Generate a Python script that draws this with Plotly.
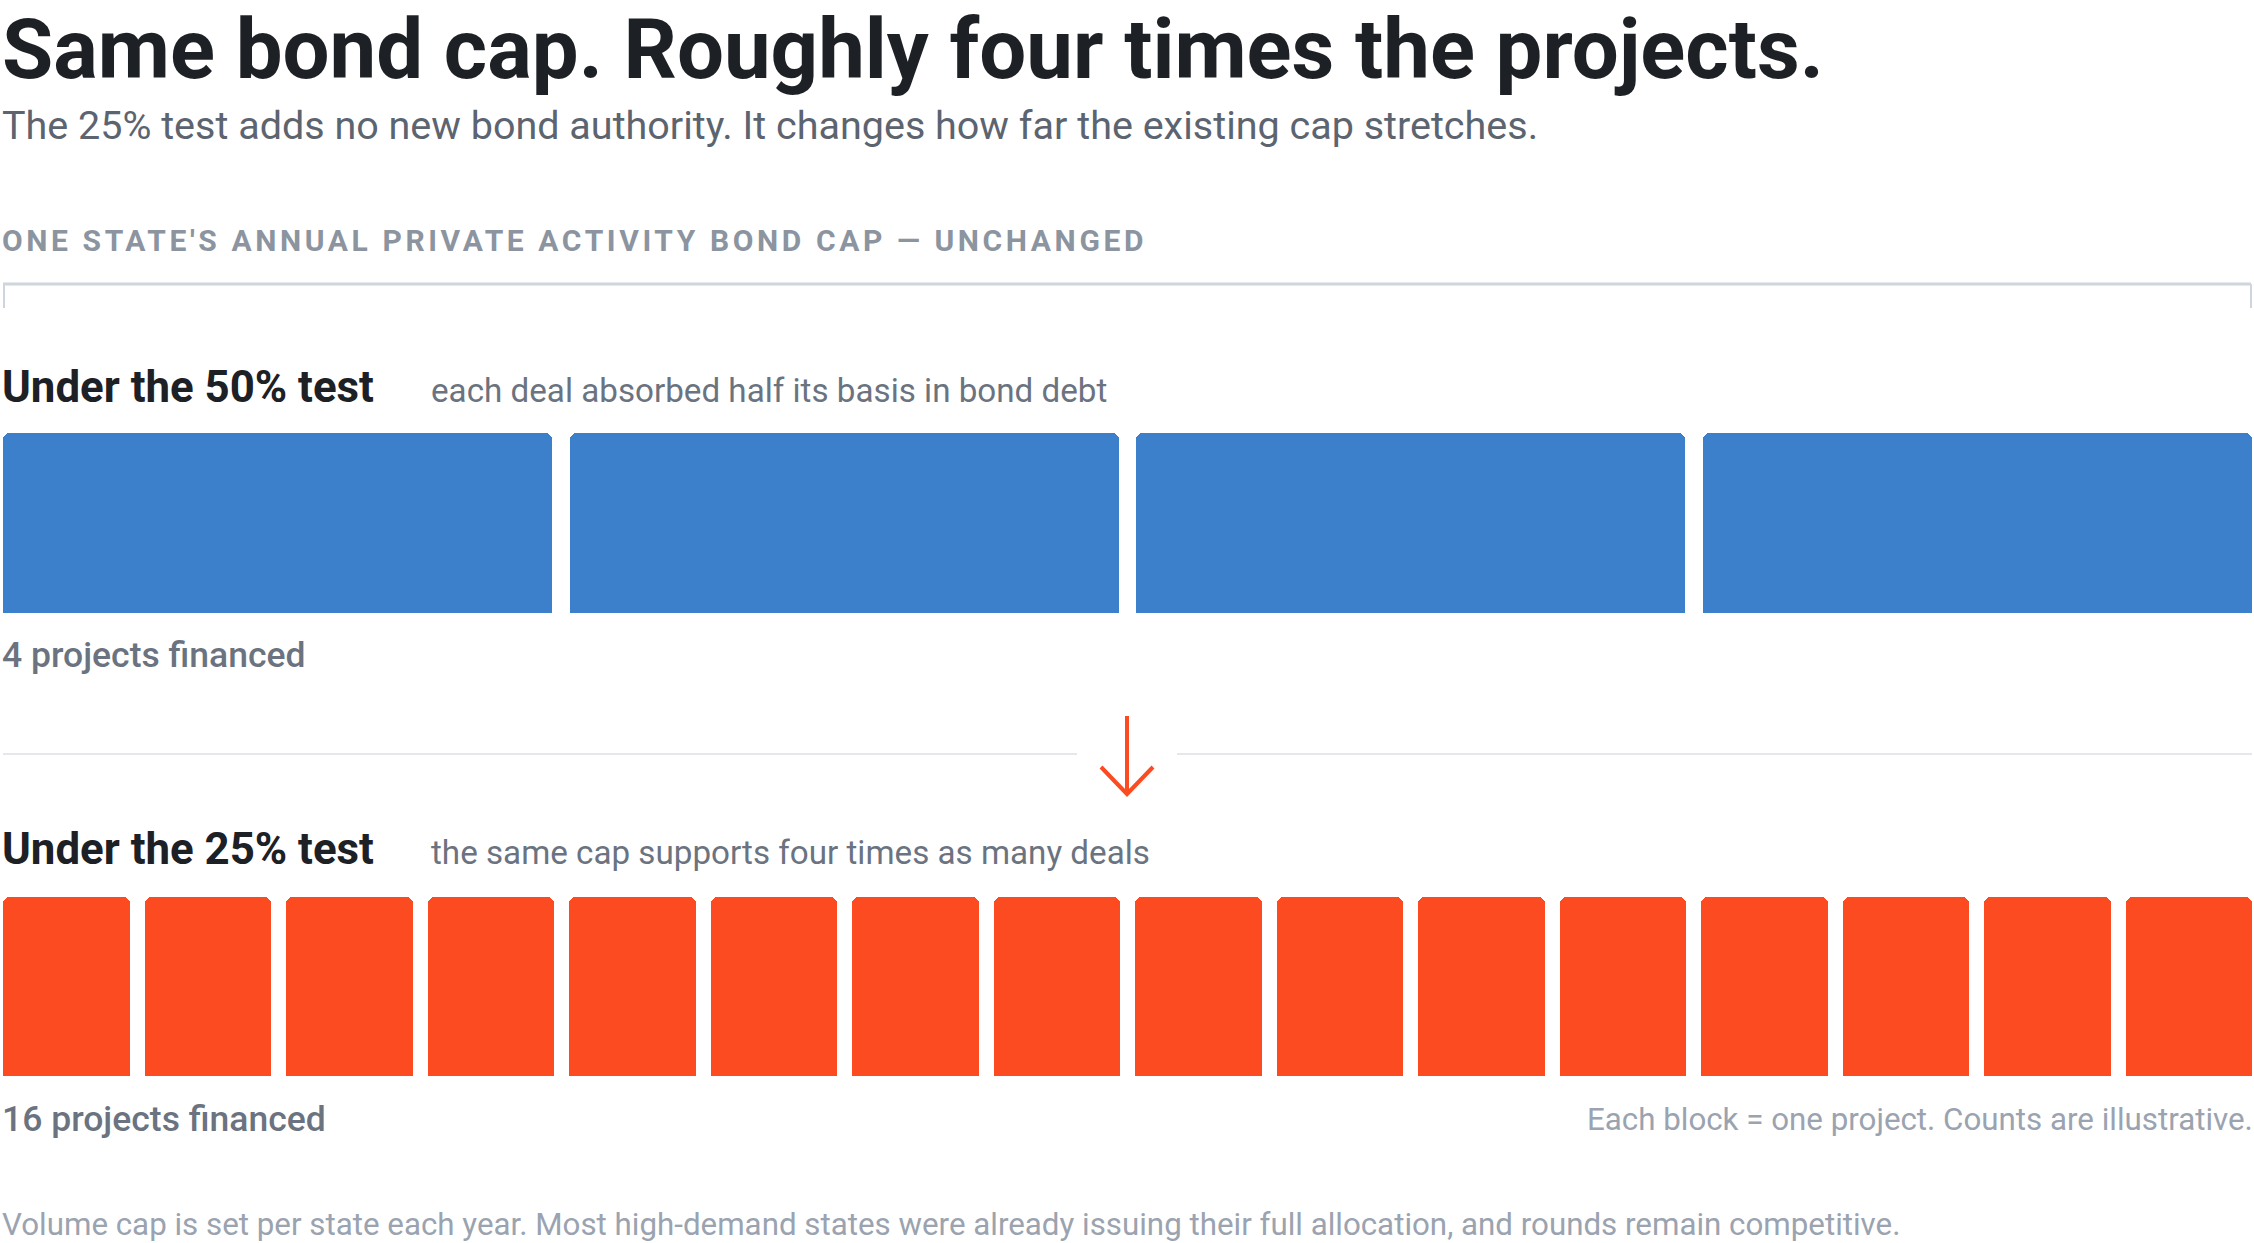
import plotly.graph_objects as go

W, H = 2254, 1243
FONT = "Roboto, 'Noto Sans', sans-serif"

TITLE = "Same bond cap. Roughly four times the projects."
SUBTITLE = "The 25% test adds no new bond authority. It changes how far the existing cap stretches."
CAP_LABEL = "ONE STATE'S ANNUAL PRIVATE ACTIVITY BOND CAP \u2014 UNCHANGED"
TESTS = ["Under the 50% test", "Under the 25% test"]
TEST_NOTES = ["each deal absorbed half its basis in bond debt",
              "the same cap supports four times as many deals"]
PROJECTS = [4, 16]
BLOCK_NOTE = "Each block = one project. Counts are illustrative."
FOOTNOTE = ("Volume cap is set per state each year. Most high-demand states were already "
            "issuing their full allocation, and rounds remain competitive.")

BLUE, ORANGE = "#3c80cc", "#fc4a21"
INK, GREY, MUTED, FAINT = "#1d2025", "#5c6470", "#6b7380", "#9aa3af"

# layout in page pixels (top-down)
ROW_TOP, ROW_BOT = [433, 897], [613, 1076]
HEAD_Y, COUNT_Y = [387, 849], [655, 1119]
BAR_W = [0.969, 0.894]
COLORS = [BLUE, ORANGE]
X0, X1 = 3, 2252
TX = 0  # text left edge (glyph bearing + annotation pad ~3px)


def px(x):
    return x / W


def py(y):
    return 1 - y / H


def label(x, y, text, size, color, weight=400, anchor="left"):
    return dict(x=px(x), y=py(y), xref="paper", yref="paper", text=text, showarrow=False,
                xanchor=anchor, yanchor="middle", align=anchor,
                font=dict(family=FONT, size=size, color=color, weight=weight))


fig = go.Figure()
ann = [
    label(TX, 50, TITLE, 83.3, INK, 700),
    label(TX, 125, SUBTITLE, 39.5, GREY),
    label(TX, 241, "<span style='letter-spacing:3.6px'>" + CAP_LABEL + "</span>", 30, "#8b949f", 700),
    label(2255, 1119, BLOCK_NOTE, 31.3, FAINT, anchor="right"),
    label(TX, 1224, FOOTNOTE, 31.3, FAINT),
]

for i, (name, note, n) in enumerate(zip(TESTS, TEST_NOTES, PROJECTS)):
    k = "" if i == 0 else str(i + 1)
    xs = [j + 1 for j in range(n)]
    fig.add_trace(go.Bar(x=xs, y=[1] * n, width=BAR_W[i], xaxis="x" + k, yaxis="y" + k,
                         marker=dict(color=COLORS[i], line=dict(width=0), cornerradius=7),
                         hovertemplate=name + " · project %{x}<extra></extra>"))
    fig.layout["xaxis" + k] = dict(domain=[px(X0), px(X1)], range=[1 - BAR_W[i] / 2, n + BAR_W[i] / 2],
                                   visible=False, fixedrange=True, anchor="y" + k)
    fig.layout["yaxis" + k] = dict(domain=[py(ROW_BOT[i]), py(ROW_TOP[i])], range=[0, 1],
                                   visible=False, fixedrange=True, anchor="x" + k)
    ann.append(label(TX, HEAD_Y[i], name, 43.8, INK, 700))
    ann.append(label(429, HEAD_Y[i] + 3, note, 33.2, MUTED))
    ann.append(label(TX, COUNT_Y[i], str(n) + " projects financed", 35.5, MUTED, 500))

line = lambda x0, y0, x1, y1, c, w: dict(type="line", xref="paper", yref="paper",
                                         x0=px(x0), y0=py(y0), x1=px(x1), y1=py(y1),
                                         line=dict(color=c, width=w))
shapes = [
    line(X0, 284, 2251, 284, "#cfd5dc", 3),
    line(X0 + 1, 284, X0 + 1, 308, "#cfd5dc", 2),
    line(2251, 284, 2251, 308, "#cfd5dc", 2),
    line(X0, 754, 1077, 754, "#e5e7eb", 2),
    line(1177, 754, X1, 754, "#e5e7eb", 2),
    line(1127, 716, 1127, 794, ORANGE, 4),
    dict(type="path", xref="paper", yref="paper",
         path="M%f,%f L%f,%f L%f,%f" % (px(1101), py(767), px(1127), py(794), px(1153), py(767)),
         line=dict(color=ORANGE, width=4)),
]

fig.update_layout(width=W, height=H, margin=dict(l=0, r=0, t=0, b=0), showlegend=False,
                  paper_bgcolor="white", plot_bgcolor="white", bargap=0,
                  annotations=ann, shapes=shapes)
fig.write_html("out.html", config={"displayModeBar": False},
               post_script="document.body.style.margin='0';")
